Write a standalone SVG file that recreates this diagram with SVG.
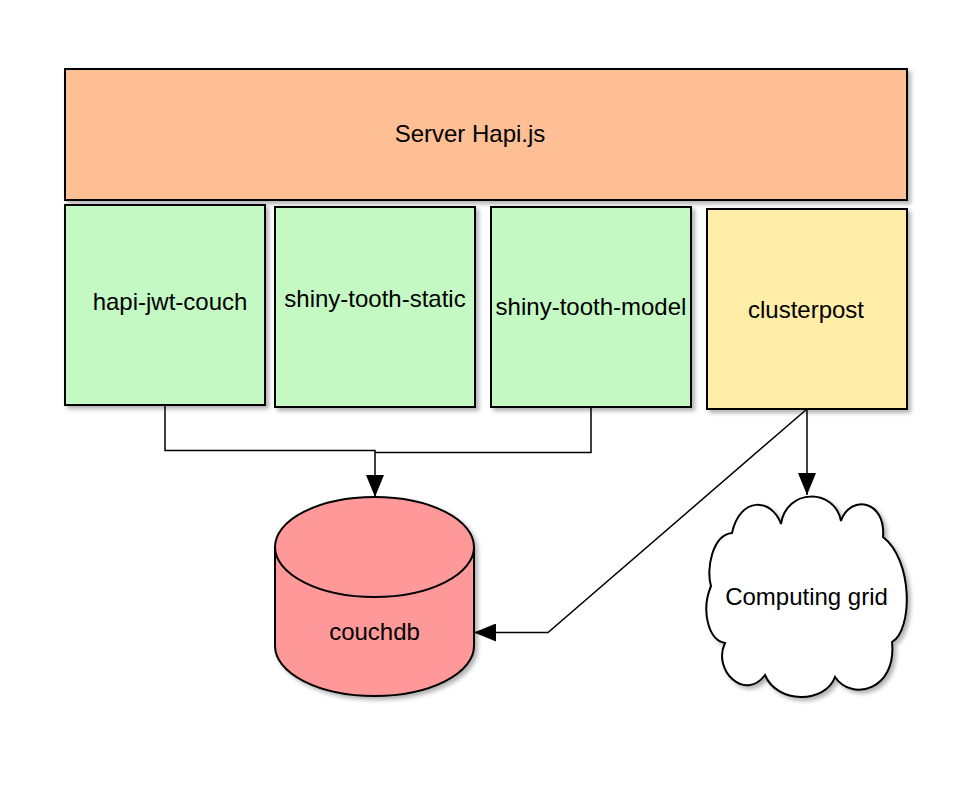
<svg xmlns="http://www.w3.org/2000/svg" width="978" height="786" viewBox="0 0 978 786">
<defs>
<filter id="sh" x="-10%" y="-10%" width="130%" height="130%">
<feDropShadow dx="3" dy="3" stdDeviation="2" flood-color="#000" flood-opacity="0.3"/>
</filter>
<marker id="ah" viewBox="0 0 22 18" refX="22" refY="9" markerWidth="22" markerHeight="18" markerUnits="userSpaceOnUse" orient="auto">
<path d="M0,0 L22,9 L0,18 Z" fill="#000"/>
</marker>
</defs>
<style>
.box{stroke:#000;stroke-width:2;filter:url(#sh)}
.lbl{font-family:"Liberation Sans",Arial,sans-serif;font-size:24px;fill:#000;text-anchor:middle}
.con{fill:none;stroke:#000;stroke-width:1.5}
</style>
<rect width="978" height="786" fill="#fff"/>
<g id="server">
<rect class="box" x="65" y="69" width="842" height="131" fill="#FFBF95"/>
<text class="lbl" x="470" y="142">Server Hapi.js</text>
</g>
<g id="hapi-jwt-couch">
<rect class="box" x="65" y="205" width="200" height="200" fill="#C4F9C4"/>
<text class="lbl" x="170" y="310">hapi-jwt-couch</text>
</g>
<g id="shiny-tooth-static">
<rect class="box" x="275" y="207" width="200" height="200" fill="#C4F9C4"/>
<text class="lbl" x="375" y="307">shiny-tooth-static</text>
</g>
<g id="shiny-tooth-model">
<rect class="box" x="491" y="207" width="200" height="200" fill="#C4F9C4"/>
<text class="lbl" x="591" y="315">shiny-tooth-model</text>
</g>
<g id="clusterpost">
<rect class="box" x="707" y="209" width="200" height="200" fill="#FFEDA8"/>
<text class="lbl" x="806" y="318">clusterpost</text>
</g>
<g id="couchdb">
<path class="box" d="M275 547 A99.5 50 0 0 1 474 547 V646 A99.5 50 0 0 1 275 646 Z" fill="#FF9999"/>
<path d="M275 547 A99.5 50 0 0 0 474 547" fill="none" stroke="#000" stroke-width="2"/>
<text class="lbl" x="374.5" y="640">couchdb</text>
</g>
<g id="computing-grid">
<path class="box" fill="#fff" d="M781 524 C772 498 740 496 732 533 C712 535 706 570 711 586 C701 610 708 640 725 643 C712 670 745 702 765 675 C777 704 825 704 835 677 C852 702 897 690 892 642 C913 630 913 560 883 537 C886 500 850 494 841 521 C835 488 786 488 781 524 Z"/>
<text class="lbl" x="806.5" y="605">Computing grid</text>
</g>
<g id="connectors">
<path class="con" d="M165 405 V450.5 H375 V497" marker-end="url(#ah)"/>
<path class="con" d="M591 407 V452.5 H375"/>
<path class="con" d="M807 409 V495" marker-end="url(#ah)"/>
<path class="con" d="M807 409 L548 632.5 H474" marker-end="url(#ah)"/>
</g>
</svg>
